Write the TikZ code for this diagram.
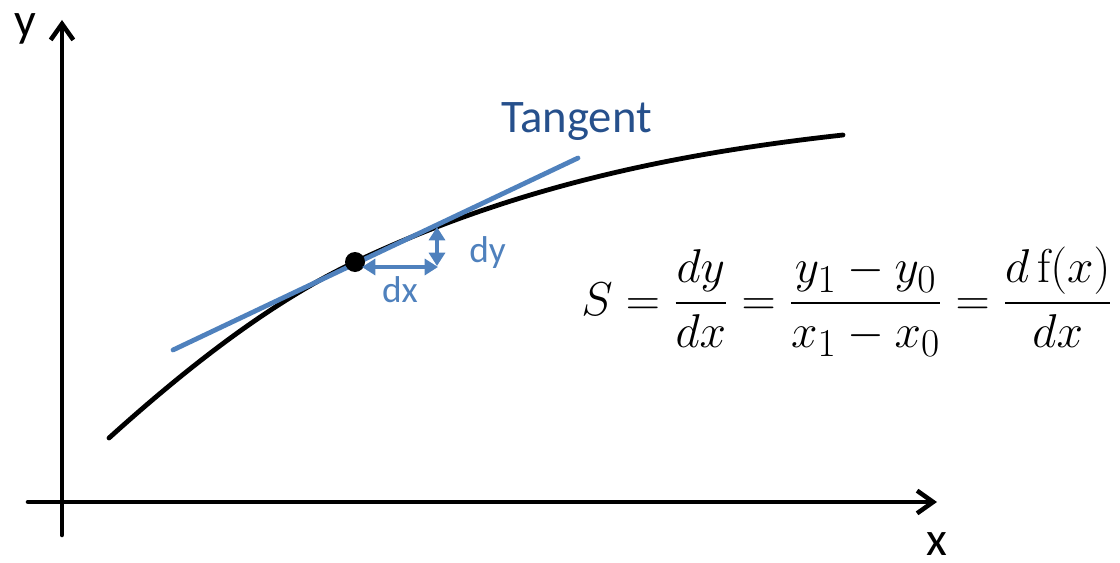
\documentclass[tikz,border=0pt]{standalone}
\usepackage{amsmath}
\usepackage{graphicx}
\usepackage[no-math]{fontspec}
\setmainfont{Carlito}
\usetikzlibrary{arrows.meta}
\definecolor{accent}{RGB}{79,129,189}
\definecolor{darkacc}{RGB}{38,80,140}
\tikzset{
  axisline/.style={line width=3.4pt, line cap=round, -{Straight Barb[length=12pt,width=17pt,line width=3.4pt]}},
  curveline/.style={line width=3.6pt, line cap=round},
  tanline/.style={line width=3.6pt, line cap=round, draw=accent},
  smallarrow/.style={line width=2.4pt, draw=accent, {Triangle[length=10pt,width=12pt]}-{Triangle[length=10pt,width=12pt]}},
  axislabel/.style={font=\fontsize{36}{40}\selectfont, inner sep=0pt},
  bluelabel/.style={font=\fontsize{28}{32}\selectfont, text=accent, inner sep=0pt},
}
\begin{document}
\begin{tikzpicture}[x=0.75pt,y=-0.75pt]
\useasboundingbox (0,0) rectangle (1120,563);
% axes
\coordinate (ybot) at (62,535);
\coordinate (ytop) at (62,20);
\coordinate (xleft) at (28,502);
\coordinate (xright) at (937,502);
\draw[axisline] (ybot) -- (ytop);
\draw[axisline] (xleft) -- (xright);
\node[axislabel, anchor=base] (ylab) at (25,37) {y};
\node[axislabel, anchor=base] (xlab) at (937,555) {x};
% curve
\coordinate (c0) at (109,438);
\coordinate (c2) at (843,135);
% tangent
\coordinate (t0) at (173,350);
\coordinate (t1) at (578,158);
% point
\coordinate (pc) at (355,262);
\draw[curveline] (c0) .. controls (191,364) and (273,301) .. (pc)
                      .. controls (518,185) and (680,153) .. (c2);
\draw[tanline] (t0) -- (t1);
\node[circle, fill=black, inner sep=0pt, minimum size=15pt] (p) at (pc) {};
\node[font=\fontsize{35}{40}\selectfont, text=darkacc, inner sep=0pt, anchor=base west] (tanlab) at (501,133) {Tangent};
% dx, dy
\coordinate (dxa) at (362,267);
\coordinate (dxb) at (438,267);
\coordinate (dya) at (437,227);
\coordinate (dyb) at (437,266);
\draw[smallarrow] (dxa) -- (dxb);
\draw[smallarrow] (dya) -- (dyb);
\node[bluelabel, anchor=base west] (dylab) at (469,262) {dy};
\node[bluelabel, anchor=base] (dxlab) at (400,302) {dx};
% formula
\node[inner sep=0pt, anchor=base, font=\fontsize{24.88}{30}\selectfont] (formula) at (847,315)
  {\scalebox{1.43}{$S=\dfrac{dy}{dx}=\dfrac{y_1-y_0}{x_1-x_0}=\dfrac{d\,\mathrm{f}(x)}{dx}$}};
\end{tikzpicture}
\end{document}
